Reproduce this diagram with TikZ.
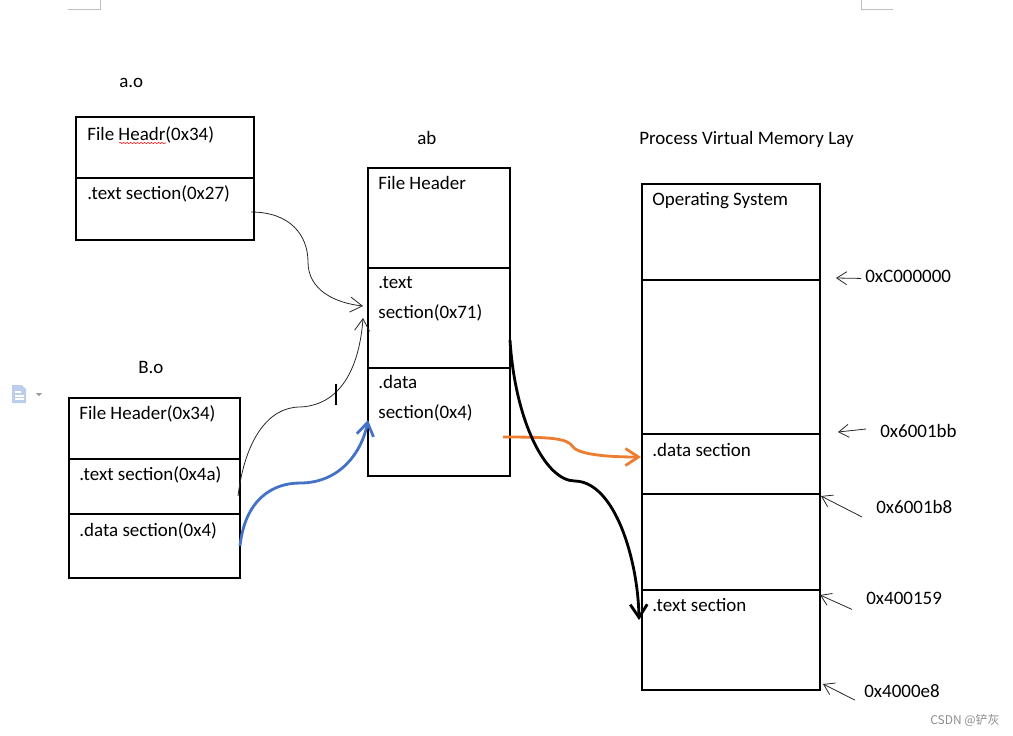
\documentclass[tikz,border=0pt]{standalone}
\usepackage{fontspec}
\setmainfont{Carlito}
\newfontfamily\cjk{Noto Sans CJK SC}
\usetikzlibrary{positioning}
\usetikzlibrary{arrows.meta}
\usetikzlibrary{decorations.pathmorphing}

\newlength{\pxu}
\setlength{\pxu}{0.02cm}
\newcommand{\mainsize}{\fontsize{10.8}{13}\selectfont}

\definecolor{wordblue}{RGB}{68,114,196}
\definecolor{wordorange}{RGB}{237,125,49}
\definecolor{iconblue}{RGB}{189,206,236}

\begin{document}
\begin{tikzpicture}[x = 0.02cm, y = -0.02cm]
  \tikzstyle{sec}=[rectangle, draw = black, line width = 0.6pt, inner sep = 0pt, outer sep = 0pt]
  \tikzstyle{txt}=[inner sep = 0pt, anchor = base west, font = \mainsize]
  \tikzstyle{link}=[-{Straight Barb[length = 2.4mm, width = 3mm]}, line width = 0.45pt, black!85]
  \tikzstyle{addr}=[-{Straight Barb[length = 2mm, width = 2.6mm]}, line width = 0.45pt, black!85]
  \tikzstyle{flow}=[-{Straight Barb[length = 2.6mm, width = 3.4mm]}, line width = 1.6pt]
  \tikzstyle{corner}=[draw = black!25, line width = 0.4pt]

  \useasboundingbox (0,0) rectangle (1013,735);

  % page corners and side icon
  \draw[corner] (68,9) -- (100,9) -- (100,0);
  \draw[corner] (861,0) -- (861,9) -- (893,9);
  \fill[iconblue] (12,385) -- (22,385) -- (26,389) -- (26,403) -- (12,403) -- cycle;
  \draw[white, line width = 0.8pt] (15,392) -- (21,392) (15,396) -- (24,396) (15,399) -- (24,399);
  \fill[black!40] (36,393) -- (42,393) -- (39,396) -- cycle;

  % a.o
  \node[txt] (ao) at (119,87) {a.o};
  \node[sec, anchor = north west, minimum width = 178\pxu, minimum height = 61\pxu] (aoh) at (76,117) {};
  \node[sec, minimum width = 178\pxu, minimum height = 62\pxu, below = 0pt of aoh] (aot) {};
  \node[txt] (aoh1) at (87,140) {File Headr(0x34)};
  \node[txt] (aot1) at (87,199) {.text section(0x27)};
  \draw[red, line width = 0.3pt, decorate, decoration = {snake, amplitude = 0.6\pxu, segment length = 3.5\pxu}] (119,143) -- (166,143);

  % ab
  \node[txt] (ab) at (417,144) {ab};
  \node[sec, anchor = north west, minimum width = 142\pxu, minimum height = 100\pxu] (abh) at (368,168) {};
  \node[sec, minimum width = 142\pxu, minimum height = 100\pxu, below = 0pt of abh] (abt) {};
  \node[sec, minimum width = 142\pxu, minimum height = 108\pxu, below = 0pt of abt] (abd) {};
  \node[txt] (abh1) at (378,189) {File Header};
  \node[txt] (abt1) at (378,288) {.text};
  \node[txt] (abt2) at (378,318) {section(0x71)};
  \node[txt] (abd1) at (378,388) {.data};
  \node[txt] (abd2) at (378,418) {section(0x4)};

  % B.o
  \node[txt] (bo) at (138,373) {B.o};
  \node[sec, anchor = north west, minimum width = 171\pxu, minimum height = 61\pxu] (boh) at (69,398) {};
  \node[sec, minimum width = 171\pxu, minimum height = 55\pxu, below = 0pt of boh] (bot) {};
  \node[sec, minimum width = 171\pxu, minimum height = 64\pxu, below = 0pt of bot] (bod) {};
  \node[txt] (boh1) at (79,419) {File Header(0x34)};
  \node[txt] (bot1) at (79,480) {.text section(0x4a)};
  \node[txt] (bod1) at (79,536) {.data section(0x4)};

  % process memory
  \node[txt] (pvm) at (639,144) {Process Virtual Memory Lay};
  \node[sec, anchor = north west, minimum width = 178\pxu, minimum height = 96\pxu] (mos) at (642,184) {};
  \node[sec, minimum width = 178\pxu, minimum height = 154\pxu, below = 0pt of mos] (mfree) {};
  \node[sec, minimum width = 178\pxu, minimum height = 60\pxu, below = 0pt of mfree] (mdata) {};
  \node[sec, minimum width = 178\pxu, minimum height = 96\pxu, below = 0pt of mdata] (mgap) {};
  \node[sec, minimum width = 178\pxu, minimum height = 100\pxu, below = 0pt of mgap] (mtext) {};
  \node[txt] (mos1) at (652,205) {Operating System};
  \node[txt] (mdata1) at (652,456) {.data section};
  \node[txt] (mtext1) at (652,611) {.text section};

  % addresses
  \node[txt] (lc) at (865,282) {0xC000000};
  \node[txt] (lbb) at (880,437) {0x6001bb};
  \node[txt] (lb8) at (876,513) {0x6001b8};
  \node[txt] (l159) at (866,604) {0x400159};
  \node[txt] (le8) at (864,697) {0x4000e8};

  \coordinate (tc) at (836,278);
  \coordinate (tbb) at (838,432);
  \coordinate (tb8) at (821,496);
  \coordinate (t159) at (820,595);
  \coordinate (te8) at (823,684);

  \draw[addr] ([xshift = -4\pxu, yshift = -2.5\pxu]lc.west) -- (tc);
  \draw[addr] ([xshift = -14\pxu, yshift = 1.5\pxu]lbb.west) -- (tbb);
  \draw[addr] ([xshift = -14\pxu, yshift = -10.5\pxu]lb8.west) -- (tb8);
  \draw[addr] ([xshift = -14\pxu, yshift = -11.5\pxu]l159.west) -- (t159);
  \draw[addr] ([xshift = -9\pxu, yshift = -9.5\pxu]le8.west) -- (te8);

  % links
  \coordinate (in1) at (363,306);
  \coordinate (in2) at (363,318);

  \draw[link] ([xshift = -3\pxu, yshift = -3\pxu]aot.east)
    .. controls (290,212) and (308,235) .. (308,262)
    .. controls (308,290) and (335,303) .. (in1);
  \draw[link] ([xshift = -2\pxu, yshift = -9.5\pxu]bot.east)
    .. controls (245,440) and (268,407) .. (300,407)
    .. controls (345,405) and (360,360) .. (in2);
  \draw[flow, wordblue] (bod.east)
    .. controls (245,500) and (272,483) .. (300,483)
    .. controls (340,483) and (362,452) .. ([yshift = 2\pxu]abd.west);
  \draw[flow, wordorange] ([xshift = -7\pxu, yshift = -15\pxu]abd.east)
    .. controls (550,437) and (568,438) .. (573,447)
    .. controls (580,455) and (610,457) .. ([xshift = -1\pxu, yshift = 7\pxu]mdata.west);
  \draw[flow, black] ([yshift = -22\pxu]abt.east)
    .. controls (515,420) and (545,481) .. (575,481)
    .. controls (615,482) and (638,560) .. ([xshift = -3\pxu, yshift = 20\pxu]mtext.west);

  % cursor
  \draw[line width = 1.1pt] (336,384) -- (336,405);

  \node[inner sep = 0pt, anchor = base west, text = black!45, font = \cjk\fontsize{6.8}{8}\selectfont] (mark) at (930,724) {CSDN @铲灰};
\end{tikzpicture}
\end{document}
